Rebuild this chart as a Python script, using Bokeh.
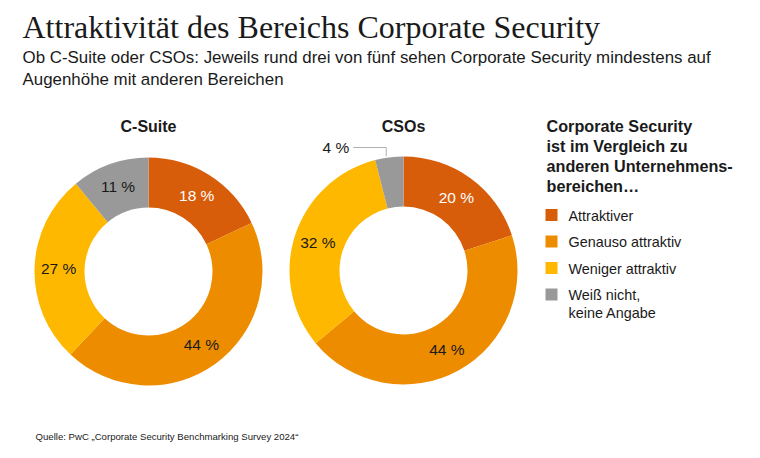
import math
from bokeh.plotting import figure
from bokeh.models import Range1d
from bokeh.core.properties import value
from bokeh.embed import file_html
from bokeh.resources import INLINE

# ---- data ----
categories = ["Attraktiver", "Genauso attraktiv", "Weniger attraktiv", "Weiß nicht,\nkeine Angabe"]
colors = ["#D85D0B", "#EE8C00", "#FFB800", "#999999"]
label_colors = ["white", "#1a1a1a", "#1a1a1a", "#1a1a1a"]
groups = ["C-Suite", "CSOs"]
csuite = [18, 44, 27, 11]
csos = [20, 44, 32, 4]

W, H = 760, 458


def Y(py):
    return H - py


p = figure(width=W, height=H, output_backend="svg", toolbar_location=None,
           x_range=Range1d(0, W), y_range=Range1d(0, H),
           min_border=0, outline_line_color=None)
p.axis.visible = False
p.grid.visible = False
p.background_fill_color = "white"
p.border_fill_color = "white"

SANS = value("Liberation Sans")
SERIF = value("Liberation Serif")

# title & subtitle
p.text(x=[22], y=[Y(26)], text=["Attraktivität des Bereichs Corporate Security"],
       text_font=SERIF, text_font_size="32px", text_color="#1a1a1a",
       text_baseline="middle", text_align="left")
p.text(x=[22, 22], y=[Y(57), Y(78.5)],
       text=["Ob C-Suite oder CSOs: Jeweils rund drei von fünf sehen Corporate Security mindestens auf",
             "Augenhöhe mit anderen Bereichen"],
       text_font=SANS, text_font_size="16.9px", text_color="#1a1a1a",
       text_baseline="middle", text_align="left")

R_OUT, R_IN, R_LAB = 114, 64, 90
centers = [(148, 271), (403, 270)]

for gi, (vals, (cx, cy)) in enumerate(zip([csuite, csos], centers)):
    total = sum(vals)
    cum = 0
    starts, ends = [], []
    for v in vals:
        a0 = math.pi / 2 - 2 * math.pi * (cum + v) / total
        a1 = math.pi / 2 - 2 * math.pi * cum / total
        starts.append(a0)
        ends.append(a1)
        cum += v
    p.annular_wedge(x=[cx] * 4, y=[Y(cy)] * 4, inner_radius=R_IN, outer_radius=R_OUT,
                    start_angle=starts, end_angle=ends, fill_color=colors,
                    line_color=None)
    # group title
    p.text(x=[cx], y=[Y(126)], text=[groups[gi]], text_font=SANS, text_font_size="16px",
           text_font_style="bold", text_color="#1a1a1a", text_align="center",
           text_baseline="middle")
    for i, v in enumerate(vals):
        mid = (starts[i] + ends[i]) / 2
        if v >= 8:
            lx = cx + R_LAB * math.cos(mid)
            ly = Y(cy) + R_LAB * math.sin(mid)
            p.text(x=[lx], y=[ly], text=[f"{v} %"], text_font=SANS, text_font_size="15.5px",
                   text_color=label_colors[i], text_align="center", text_baseline="middle")
        else:
            ex = cx + R_OUT * math.cos(mid)
            ey = Y(cy) + R_OUT * math.sin(mid)
            ly = Y(147)
            p.line(x=[ex - 3, ex - 3, ex - 36], y=[ey + 1, ly, ly], line_color="#b0b0b0",
                   line_width=1)
            p.text(x=[ex - 40], y=[ly], text=[f"{v} %"], text_font=SANS, text_font_size="15.5px",
                   text_color="#1a1a1a", text_align="right", text_baseline="middle")

# legend
p.text(x=[546] * 4, y=[Y(125.5), Y(145.5), Y(165.5), Y(185)],
       text=["Corporate Security", "ist im Vergleich zu", "anderen Unternehmens-", "bereichen…"],
       text_font=SANS, text_font_size="16.2px", text_font_style="bold", text_color="#1a1a1a",
       text_align="left", text_baseline="middle")
leg_y = [214.5, 241, 267.5, 294]
p.rect(x=[551] * 4, y=[Y(v) for v in leg_y], width=12, height=12, fill_color=colors,
       line_color=None)
leg_text_x, leg_text_y, leg_text = [], [], []
for i, cat in enumerate(categories):
    for j, line in enumerate(cat.split("\n")):
        leg_text_x.append(568)
        leg_text_y.append(Y(leg_y[i] + 0.5 + 18 * j))
        leg_text.append(line)
p.text(x=leg_text_x, y=leg_text_y, text=leg_text, text_font=SANS, text_font_size="14.4px",
       text_color="#1a1a1a", text_align="left", text_baseline="middle")

# source
p.text(x=[35], y=[Y(436)], text=["Quelle: PwC „Corporate Security Benchmarking Survey 2024“"],
       text_font=SANS, text_font_size="9.6px", text_color="#1a1a1a", text_align="left",
       text_baseline="middle")

open("out.html", "w").write(file_html(p, INLINE))
